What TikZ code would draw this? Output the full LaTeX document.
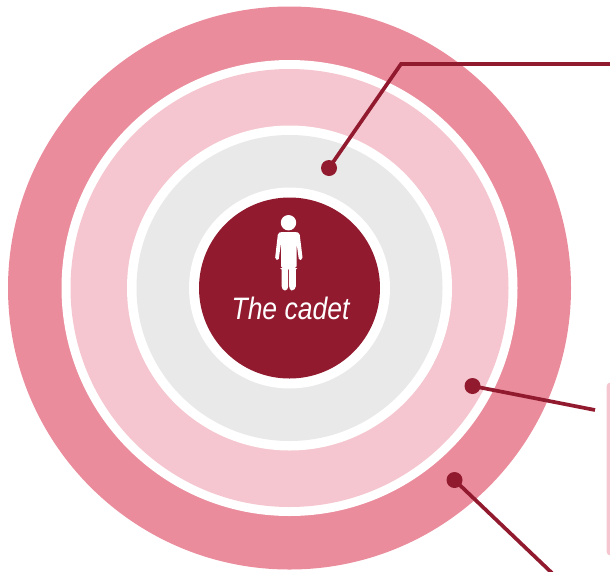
\documentclass[tikz,border=0pt]{standalone}
\usepackage{fontspec}
\setmainfont{Liberation Sans}
\definecolor{cadetRed}{HTML}{921A2F}
\definecolor{ringOuter}{HTML}{EA8C9C}
\definecolor{ringMiddle}{HTML}{F5C6CF}
\definecolor{ringInner}{HTML}{E9E9E9}
\tikzset{
  ring/.style={circle, inner sep=0pt, outer sep=0pt, minimum size=2*#1},
  callout/.style={draw=cadetRed, line width=3.7pt},
  pin/.style={circle, fill=cadetRed, inner sep=0pt, minimum size=16pt}
}
\begin{document}
\begin{tikzpicture}[x=1pt, y=-1pt]
  \useasboundingbox (0,0) rectangle (610,571);

  % rings, outside to centre
  \node[ring=281.5pt, fill=ringOuter] (outer) at (289.5,288) {};
  \node[ring=228pt, fill=white] (gapOne) at (289.5,288) {};
  \node[ring=219pt, fill=ringMiddle] (middle) at (289.5,288) {};
  \node[ring=162.5pt, fill=white] (gapTwo) at (289.5,288) {};
  \node[ring=153pt, fill=ringInner] (inner) at (289.5,288) {};
  \node[ring=100.5pt, fill=white] (gapThree) at (289.5,288) {};
  \node[ring=90.5pt, fill=cadetRed] (cadet) at (289.5,288) {};

  % box at the right edge, cut by the page
  \begin{scope}
    \clip (0,0) rectangle (610,571);
    \fill[ringMiddle, rounded corners=4pt] (606.5,382.5) rectangle (640,555.5);
  \end{scope}

  % the figure
  \fill[white] (288.5,222.7) circle (7.7);
  \fill[white, rounded corners=1.6pt] (281,232) -- (296.5,232)
    -- (299.5,233) -- (302.7,259) -- (299,260.5) -- (296.5,243)
    -- (296.5,268) -- (295.8,268) -- (295.8,288) -- (293,290.5) -- (290.5,290.5) -- (289.2,288)
    -- (289.2,268) -- (288.2,268) -- (288.2,288) -- (286.5,290.5) -- (283.5,290.5) -- (281.7,288)
    -- (281.7,268) -- (281,268) -- (281,243) -- (278.5,260.5) -- (275,259) -- (278,233) -- cycle;
  \node[text=white, font=\fontsize{31}{31}\selectfont\itshape, xscale=0.855, inner sep=0pt] (label) at (290.5,308.5) {The cadet};

  % callouts
  \node[pin] (pinInner) at (329,168) {};
  \node[pin] (pinMiddle) at (472.5,386) {};
  \node[pin] (pinOuter) at (454.5,480) {};
  \coordinate (elbow) at (401,64);
  \coordinate (endInner) at (610,64);
  \coordinate (endMiddle) at (595,410);
  \coordinate (endOuter) at (552,573);
  \draw[callout, miter limit=10] (pinInner.center) -- (elbow) -- (endInner);
  \draw[callout] (pinMiddle.center) -- (endMiddle);
  \draw[callout] (pinOuter.center) -- (endOuter);
\end{tikzpicture}
\end{document}
